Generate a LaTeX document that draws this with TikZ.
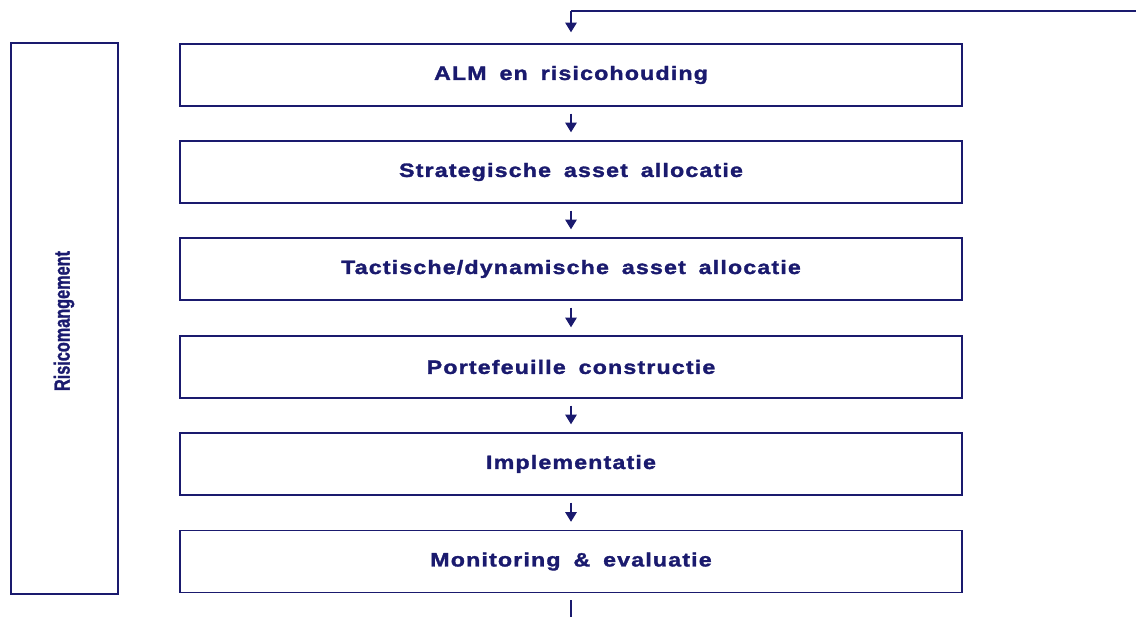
\documentclass[tikz,border=0pt]{standalone}
\usepackage{fontspec}
\setmainfont{Liberation Sans}
\newfontfamily\stepfont[FakeStretch=1.2,FakeBold=1.6,LetterSpace=6,WordSpace=1.7]{Liberation Sans Bold}
\newfontfamily\smalfont[FakeStretch=0.74,FakeBold=1.2]{Liberation Sans Bold}
\usetikzlibrary{arrows.meta}

\definecolor{navy}{RGB}{26,26,110}

\tikzset{
	stap/.style={draw=navy, line width=0.8pt, minimum width=15.64cm, minimum height=1.24cm, inner sep=0pt, text=navy, font=\stepfont\fontsize{11}{13}\selectfont},
	pijl/.style={draw=navy, line width=0.9pt, -{Triangle[length=5.5pt,width=6.5pt]}, shorten >=0.16cm, shorten <=0.14cm}
}

\begin{document}
\begin{tikzpicture}[x=0.02cm,y=-0.02cm]
	\useasboundingbox (0,0) rectangle (1136,617);

	\node[stap] (s1) at (571,75) {ALM en risicohouding};
	\node[stap] (s2) at (571,172) {Strategische asset allocatie};
	\node[stap] (s3) at (571,269) {Tactische/dynamische asset allocatie};
	\node[stap] (s4) at (571,367) {Portefeuille constructie};
	\node[stap] (s5) at (571,464) {Implementatie};
	\node[stap] (s6) at (571,561.5) {Monitoring \& evaluatie};

	% risicomanagement box langs de hele keten
	\node[draw=navy, line width=0.8pt, minimum width=2.14cm, minimum height=11.02cm, inner sep=0pt] (risico) at (64.5,318.5) {};
	\node[rotate=90, text=navy, font=\smalfont\fontsize{12.5}{14}\selectfont] (risicotekst) at (64,321) {Risicomangement};

	\coordinate (terug) at (1136,11);
	\coordinate (bocht) at (571,11);
	\coordinate (einde) at (571,617);

	\draw [navy, line width=0.9pt] (terug) -- (bocht);
	\draw [pijl, shorten <=0pt, shorten >=0.22cm] (bocht) -- (s1);
	\draw [pijl] (s1) -- (s2);
	\draw [pijl] (s2) -- (s3);
	\draw [pijl] (s3) -- (s4);
	\draw [pijl] (s4) -- (s5);
	\draw [pijl] (s5) -- (s6);
	\draw [navy, line width=0.9pt, shorten <=0.14cm] (s6) -- (einde);
\end{tikzpicture}
\end{document}
